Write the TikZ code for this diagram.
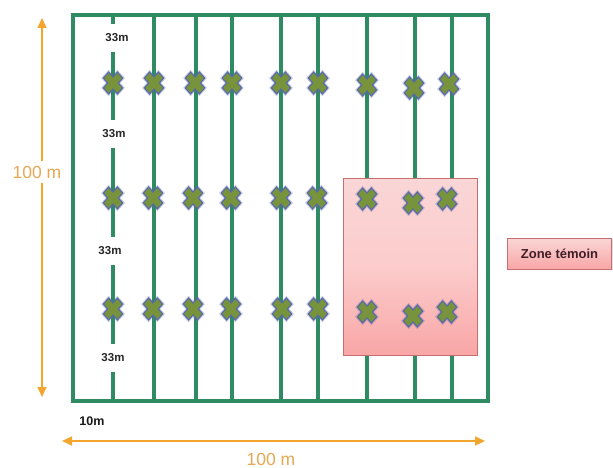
\documentclass[tikz,border=0pt]{standalone}
\usepackage{fontspec}
\setmainfont{Liberation Sans}
\usetikzlibrary{arrows.meta,shadows}
\definecolor{fieldgreen}{RGB}{46,139,98}
\definecolor{olivex}{RGB}{119,147,60}
\definecolor{xedge}{RGB}{88,104,168}
\definecolor{dimorange}{RGB}{242,166,45}
\definecolor{dimtext}{RGB}{230,168,82}
\definecolor{pinkedge}{RGB}{196,112,112}
\definecolor{pinktop}{RGB}{250,214,214}
\definecolor{pinkmid}{RGB}{252,204,204}
\definecolor{pinkbot}{RGB}{249,166,166}
\definecolor{zonetext}{RGB}{64,30,40}
\tikzset{
  fieldline/.style={draw=fieldgreen,line width=3.4pt},
  dimarrow/.style={draw=dimorange,line width=1.6pt,{Triangle[length=10pt,width=9pt]}-{Triangle[length=10pt,width=9pt]}},
  dimlabel/.style={text=dimtext,font=\fontsize{17.5}{19}\selectfont,inner sep=1pt},
  metlabel/.style={text=black!85,font=\bfseries\fontsize{11.5}{14}\selectfont,minimum height=28pt,inner sep=1pt},
  xmark/.pic={
    \path[draw=xedge,draw opacity=0.3,line width=3.2pt,yscale=1.12,rotate=45]
      (3.8,10)--(3.8,3.8)--(10,3.8)--(10,-3.8)--(3.8,-3.8)--(3.8,-10)--(-3.8,-10)--(-3.8,-3.8)--(-10,-3.8)--(-10,3.8)--(-3.8,3.8)--(-3.8,10)--cycle;
    \path[fill=olivex,draw=xedge,line width=1.1pt,yscale=1.12,rotate=45]
      (3.8,10)--(3.8,3.8)--(10,3.8)--(10,-3.8)--(3.8,-3.8)--(3.8,-10)--(-3.8,-10)--(-3.8,-3.8)--(-10,-3.8)--(-10,3.8)--(-3.8,3.8)--(-3.8,10)--cycle;
  }
}
\begin{document}
\begin{tikzpicture}[x=1pt,y=-1pt]
\useasboundingbox (0,0) rectangle (613,468);
\fill[white] (0,0) rectangle (613,468);

% field outline
\draw[fieldline] (73,15) rectangle (488,401);

% vertical lines
\foreach \xx in {154,196,232,281,318,367,415,452}
  \draw[fieldline] (\xx,15) -- (\xx,401);

% first line with 33m labels
\coordinate (ltop) at (113,15);
\coordinate (lbot) at (113,401);
\node[metlabel] (m1) at (117,38) {33m};
\node[metlabel] (m2) at (114,134) {33m};
\node[metlabel] (m3) at (110,251) {33m};
\node[metlabel] (m4) at (113,358) {33m};
\draw[fieldline] (ltop) -- (ltop |- m1.north);
\draw[fieldline] (ltop |- m1.south) -- (ltop |- m2.north);
\draw[fieldline] (ltop |- m2.south) -- (ltop |- m3.north);
\draw[fieldline] (ltop |- m3.south) -- (ltop |- m4.north);
\draw[fieldline] (ltop |- m4.south) -- (lbot);

% control zone
\shade[top color=pinktop,bottom color=pinkbot,middle color=pinkmid] (343,178) rectangle (477,355);
\draw[pinkedge,line width=0.8pt] (343,178) rectangle (477,355);

% crosses
\foreach \xx/\yy in {113/83,154/83,195/83,232/83,281/83,318/83,367/85,414/88,449/84,
                     113/198,153/198,193/198,231/198,281/198,317/198,367/199,413/203,447/199,
                     113/309,153/309,193/309,231/309,282/309,318/309,367/312,413/316,447/312}
  \pic at (\xx,\yy) {xmark};

% legend
\node[draw=pinkedge,line width=0.6pt,top color=pinktop,bottom color=pinkbot,
      minimum width=104pt,minimum height=31pt,inner sep=0pt,
      text=zonetext,font=\bfseries\fontsize{13}{15}\selectfont,
      drop shadow={opacity=0.25,shadow xshift=1.2pt,shadow yshift=-1.2pt}]
      (zone) at (559.5,253.5) {Zone témoin};

% dimensions
\coordinate (vtop) at (42,18);
\coordinate (vbot) at (42,397);
\draw[dimarrow] (vbot) -- (vtop);
\node[dimlabel,fill=white,inner ysep=5pt] (vlab) at (37,172) {100 m};

\coordinate (hleft) at (62,441);
\coordinate (hright) at (485,441);
\draw[dimarrow] (hleft) -- (hright);
\node[dimlabel] (hlab) at (271,459) {100 m};

\node[text=black!90,font=\bfseries\fontsize{12.5}{14}\selectfont,inner sep=1pt] (ten) at (92,421) {10m};
\end{tikzpicture}
\end{document}
